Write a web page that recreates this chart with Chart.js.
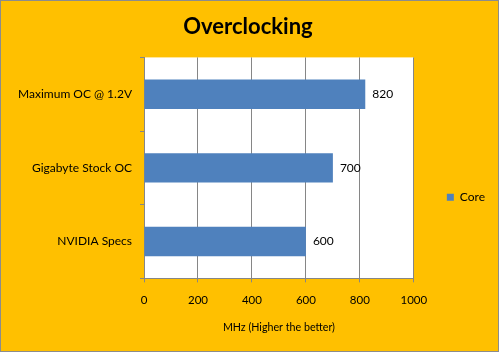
<!DOCTYPE html>
<html>
<head>
<meta charset="utf-8">
<script src="https://cdn.jsdelivr.net/npm/chart.js@4/dist/chart.umd.min.js"></script>
<style>
    body { margin: 0; }
    #frame {
        position: absolute; left: 0; top: 0;
        width: 499px; height: 352px;
        box-sizing: border-box;
        border: 1px solid #8c8c8c;
        background: #FFC000;
    }
</style>
</head>
<body>
<div id="frame"><canvas id="chart"></canvas></div>
<script>
// Chart data
categories = ['Maximum OC @ 1.2V', 'Gigabyte Stock OC', 'NVIDIA Specs'];
coreValues = [820, 700, 600];
xTicks = [0, 200, 400, 600, 800, 1000];

gridGray = '#868686';
fontName = 'Lato, "Open Sans", sans-serif';

// White fill behind the plot area
plotBackground = {
    id: 'plotBackground',
    beforeDraw(chart) {
        let a = chart.chartArea;
        let ctx = chart.ctx;
        ctx.save();
        ctx.fillStyle = '#ffffff';
        ctx.fillRect(a.left, a.top, a.right - a.left, a.bottom - a.top);
        ctx.restore();
    }
};

// Value labels at the end of each bar
valueLabels = {
    id: 'valueLabels',
    afterDatasetsDraw(chart) {
        let ctx = chart.ctx;
        ctx.save();
        ctx.font = '12px ' + fontName;
        ctx.fillStyle = '#000000';
        ctx.textAlign = 'left';
        ctx.textBaseline = 'middle';
        chart.getDatasetMeta(0).data.forEach((bar, i) => {
            ctx.fillText(coreValues[i], bar.x + 7, bar.y);
        });
        ctx.restore();
    }
};

let ctx = document.getElementById('chart');

new Chart(ctx, {
    type: 'bar',
    data: {
        labels: categories,
        datasets: [{
            label: 'Core',
            data: coreValues,
            backgroundColor: '#4F81BD',
            borderWidth: 0,
            categoryPercentage: 1.0,
            barPercentage: 0.4
        }]
    },
    options: {
        indexAxis: 'y',
        responsive: true,
        maintainAspectRatio: false,
        animation: false,
        layout: {
            padding: { left: 0, right: 3, top: 0, bottom: 0 }
        },
        plugins: {
            title: {
                display: true,
                text: 'Overclocking',
                color: '#000000',
                font: { family: fontName, size: 22, weight: 'bold' },
                padding: { top: 13, bottom: 17 }
            },
            legend: {
                position: 'right',
                maxWidth: 88,
                title: {
                    display: true,
                    text: '',
                    padding: { top: 28, bottom: 0 }
                },
                labels: {
                    color: '#000000',
                    boxWidth: 7,
                    boxHeight: 7,
                    padding: 33,
                    font: { family: fontName, size: 12 }
                }
            },
            tooltip: { enabled: false }
        },
        scales: {
            x: {
                min: 0,
                max: 1000,
                afterBuildTicks: (scale) => {
                    scale.ticks = xTicks.map(v => ({ value: v }));
                },
                border: { color: gridGray },
                grid: {
                    color: gridGray,
                    tickLength: 4
                },
                ticks: {
                    color: '#000000',
                    padding: 11,
                    font: { family: fontName, size: 11.5 },
                    callback: (v) => String(v)
                },
                title: {
                    display: true,
                    text: 'MHz (Higher the better)',
                    color: '#000000',
                    font: { family: fontName, size: 10.7 },
                    padding: { top: 3, bottom: 17 }
                }
            },
            y: {
                afterFit: (scale) => { scale.width = 143; },
                border: { color: gridGray },
                grid: {
                    color: gridGray,
                    drawOnChartArea: false,
                    tickLength: 4,
                    offset: true
                },
                ticks: {
                    color: '#000000',
                    padding: 8,
                    font: { family: fontName, size: 12 }
                }
            }
        }
    },
    plugins: [plotBackground, valueLabels]
});
</script>
</body>
</html>
